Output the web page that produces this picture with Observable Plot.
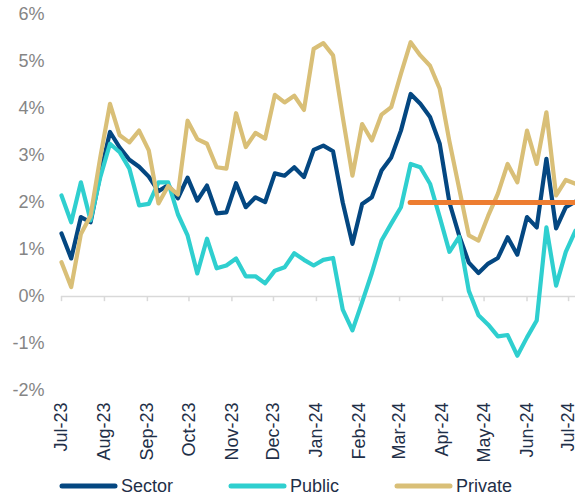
<!DOCTYPE html>
<html>
<head>
<meta charset="utf-8">
<script src="https://cdn.jsdelivr.net/npm/d3@7"></script>
<script src="https://cdn.jsdelivr.net/npm/@observablehq/plot@0.6"></script>
<style>
  html, body { margin: 0; padding: 0; background: #ffffff; }
  body { width: 575px; height: 500px; overflow: hidden; font-family: "Liberation Sans", Arial, sans-serif; }
  #legend { position: relative; width: 575px; height: 28px; }
  .item { position: absolute; top: 0; height: 28px; display: flex; align-items: center; }
  .item span { font-size: 18px; color: #1F2F48; margin-left: 3px; }
</style>
</head>
<body>
<div id="chart"></div>
<div id="legend"></div>
<script>
// ---- data (weekly, starting 1 Jul 2023) ----
const startDate = "2023-07-01";
const sector = [1.34, 0.81, 1.69, 1.58, 2.6, 3.5, 3.17, 2.91, 2.76, 2.55, 2.24, 2.37, 2.09, 2.53,
  2.04, 2.36, 1.77, 1.79, 2.41, 1.9, 2.11, 2.01, 2.62, 2.57, 2.75, 2.54, 3.12, 3.21,
  3.09, 2.0, 1.12, 1.97, 2.11, 2.68, 2.96, 3.53, 4.31, 4.1, 3.82, 3.25, 2.0, 1.3,
  0.72, 0.5, 0.7, 0.82, 1.26, 0.89, 1.69, 1.47, 2.93, 1.45, 1.9, 2.02];
const publicSeries = [2.15, 1.58, 2.43, 1.62, 2.54, 3.25, 3.07, 2.72, 1.94, 1.97, 2.43, 2.43, 1.75, 1.3,
  0.49, 1.23, 0.6, 0.66, 0.81, 0.43, 0.43, 0.28, 0.55, 0.62, 0.92, 0.78, 0.66, 0.78,
  0.82, -0.28, -0.72, -0.12, 0.5, 1.19, 1.55, 1.9, 2.82, 2.75, 2.4, 1.69, 0.95, 1.27,
  0.12, -0.4, -0.6, -0.85, -0.82, -1.26, -0.87, -0.51, 1.47, 0.23, 0.95, 1.4];
const privateSeries = [0.73, 0.2, 1.33, 1.72, 2.96, 4.1, 3.43, 3.28, 3.53, 3.11, 1.98, 2.35, 2.17, 3.74,
  3.35, 3.25, 2.75, 2.72, 3.9, 3.18, 3.48, 3.36, 4.29, 4.13, 4.27, 3.97, 5.27, 5.39,
  5.13, 3.82, 2.57, 3.67, 3.32, 3.87, 4.03, 4.74, 5.41, 5.13, 4.91, 4.42, 3.3, 2.3,
  1.3, 1.19, 1.72, 2.19, 2.82, 2.43, 3.53, 2.82, 3.92, 2.15, 2.48, 2.4];
const targetValue = 2;
const targetStartIndex = 36;
const seriesNames = ["Sector", "Public", "Private"];
const seriesColors = ["#044781", "#2FCFCF", "#D9BF77"];
const targetColor = "#ED7D31";
const monthTicks = ["2023-07-01", "2023-08-01", "2023-09-01", "2023-10-01", "2023-11-01", "2023-12-01",
  "2024-01-01", "2024-02-01", "2024-03-01", "2024-04-01", "2024-05-01", "2024-06-01", "2024-07-01"];
const monthLabels = ["Jul-23", "Aug-23", "Sep-23", "Oct-23", "Nov-23", "Dec-23",
  "Jan-24", "Feb-24", "Mar-24", "Apr-24", "May-24", "Jun-24", "Jul-24"];
const yTicks = [-2, -1, 0, 1, 2, 3, 4, 5, 6];

// ---- build table ----
const weeks = sector.map((_, i) => d3.utcDay.offset(new Date(startDate), 7 * i));
const monthDates = monthTicks.map(s => new Date(s));
const seriesValues = [sector, publicSeries, privateSeries];
const rows = [];
seriesNames.forEach((name, k) => {
  seriesValues[k].forEach((v, i) => rows.push({series: name, date: weeks[i], value: v}));
});

const chart = Plot.plot({
  width: 575,
  height: 472,
  marginLeft: 61,
  marginRight: 0,
  marginTop: 14,
  marginBottom: 82,
  style: {fontFamily: "'Liberation Sans', Arial, sans-serif", background: "#ffffff", overflow: "visible"},
  x: {type: "utc", domain: [weeks[0], weeks[weeks.length - 1]]},
  y: {domain: [-2, 6]},
  color: {domain: seriesNames, range: seriesColors},
  marks: [
    Plot.axisY({ticks: yTicks, tickSize: 0, tickPadding: 17, tickFormat: d => d + "%",
      fill: "#858585", fontSize: 18, label: null}),
    Plot.axisX({ticks: monthDates, tickFormat: (d, i) => monthLabels[i], tickRotate: -90,
      tickSize: 0, tickPadding: 12, fill: "#1F2F48", fontSize: 18, label: null}),
    Plot.ruleY([0], {stroke: "#d9d9d9", strokeWidth: 1.5}),
    Plot.ruleX(monthDates, {x: d => d, y1: 0, y2: -0.11, stroke: "#d9d9d9", strokeWidth: 1.5}),
    Plot.line(rows, {x: "date", y: "value", z: "series", stroke: "series", strokeWidth: 4.2,
      strokeLinejoin: "round", strokeLinecap: "round"}),
    Plot.ruleY([targetValue], {x1: () => weeks[targetStartIndex], x2: () => weeks[weeks.length - 1],
      stroke: targetColor, strokeWidth: 5, strokeLinecap: "round"})
  ]
});
document.getElementById("chart").appendChild(chart);

// ---- legend ----
const legend = document.getElementById("legend");
const legendLeft = [59, 228, 394];
seriesNames.forEach((name, k) => {
  const item = document.createElement("div");
  item.className = "item";
  item.style.left = legendLeft[k] + "px";
  item.innerHTML = `<svg width="59" height="10"><line x1="3" y1="5" x2="56" y2="5" stroke="${seriesColors[k]}" stroke-width="5" stroke-linecap="round"/></svg><span>${name}</span>`;
  legend.appendChild(item);
});
</script>
</body>
</html>
